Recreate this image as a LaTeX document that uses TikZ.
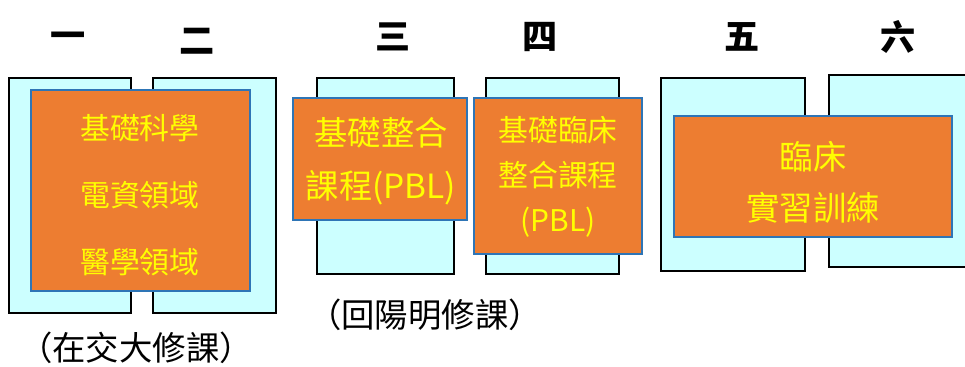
\documentclass[tikz,border=0pt]{standalone}
\usepackage{fontspec}
\newfontfamily\cjk{Noto Sans CJK TC}
\definecolor{termcyan}{HTML}{CCFFFF}
\definecolor{courseorange}{HTML}{ED7D31}
\definecolor{courseblue}{HTML}{2E75B6}
\definecolor{courseyellow}{HTML}{FFFF00}
\tikzset{
    termbox/.style={draw=black, line width=1.2pt, fill=termcyan},
    coursebox/.style={draw=courseblue, line width=1.2pt, fill=courseorange},
    coursetext/.style={text=courseyellow, align=center, font=\cjk\fontsize{17}{38}\selectfont},
    termlabel/.style={font=\cjk\bfseries\fontsize{20}{22}\selectfont},
    placelabel/.style={font=\cjk\fontsize{19}{22}\selectfont}
}
\begin{document}
\begin{tikzpicture}[x=0.02cm, y=-0.02cm]

    % Fix the picture size
    \useasboundingbox (0,0) rectangle (965,367);

    % Draw the term headings
    \node[termlabel] (h1) at (68,40) {一};
    \node[termlabel] (h2) at (197,41) {二};
    \node[termlabel] (h3) at (393,37) {三};
    \node[termlabel] (h4) at (540,37) {四};
    \node[termlabel] (h5) at (742,37) {五};
    \node[termlabel] (h6) at (898,37) {六};

    % Draw the term boxes
    \draw[termbox] (9,78) rectangle (131,313);
    \draw[termbox] (153,78) rectangle (276,313);
    \draw[termbox] (317,78) rectangle (454,274);
    \draw[termbox] (486,78) rectangle (619,274);
    \draw[termbox] (661,78) rectangle (805,271);
    \draw[termbox] (829,75) rectangle (975,267);

    % Draw the course boxes
    \draw[coursebox] (31,90) rectangle (250,291);
    \draw[coursebox] (293,98) rectangle (467,220);
    \draw[coursebox] (474,98) rectangle (642,254);
    \draw[coursebox] (674,116) rectangle (952,237);

    % Draw the course names
    \node[coursetext] (c12) at (140,195) {基礎科學\\電資領域\\醫學領域};
    \node[coursetext, font=\cjk\fontsize{19}{30}\selectfont] (c3) at (381,161) {基礎整合\\課程(PBL)};
    \node[coursetext, font=\cjk\fontsize{17}{25.5}\selectfont] (c4) at (558,177) {基礎臨床\\整合課程\\(PBL)};
    \node[coursetext, font=\cjk\fontsize{19}{29}\selectfont] (c56) at (813,182) {臨床\\實習訓練};

    % Draw the places of study
    \node[placelabel] (p12) at (136,348) {（在交大修課）};
    \node[placelabel] (p34) at (425,315) {（回陽明修課）};
\end{tikzpicture}
\end{document}
